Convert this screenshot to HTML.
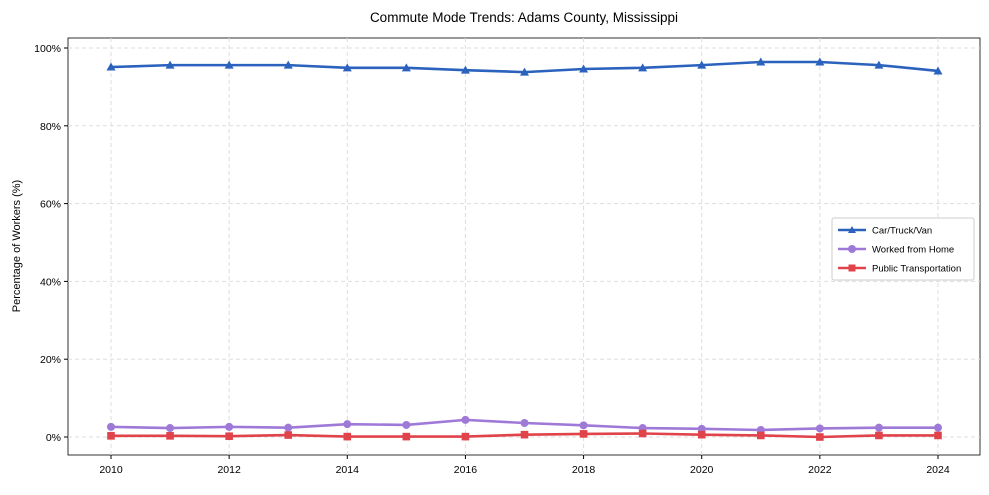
<!DOCTYPE html>
<html><head><meta charset="utf-8"><style>
body{margin:0;background:#fff;}
svg text{font-family:"Liberation Sans",sans-serif;}
</style></head><body>
<svg id="chart" width="989" height="490" xmlns="http://www.w3.org/2000/svg">
<rect width="989" height="490" fill="#fff"/>
<text x="524" y="22" text-anchor="middle" font-size="13.5">Commute Mode Trends: Adams County, Mississippi</text>
<rect x="68" y="38" width="912" height="417" fill="none" stroke="#000" stroke-width="0.8"/>
<g id="grid"></g><g id="axes"></g><g id="series"></g>
<text transform="translate(20,246) rotate(-90)" text-anchor="middle" font-size="11">Percentage of Workers (%)</text>
<g>
<rect x="832" y="218" width="142" height="62" fill="#fff" stroke="#ccc" rx="2"/>
<g><line x1="838" y1="230" x2="866" y2="230" stroke="#2a62bd" stroke-width="2.5"/><path d="M852,226 L856,233 L848,233Z" fill="#2a62bd"/><text x="872" y="233.5" font-size="9.5">Car/Truck/Van</text></g>
<g><line x1="838" y1="249" x2="866" y2="249" stroke="#9f79d8" stroke-width="2.5"/><circle cx="852" cy="249" r="4" fill="#9f79d8"/><text x="872" y="252.5" font-size="9.5">Worked from Home</text></g>
<g><line x1="838" y1="268" x2="866" y2="268" stroke="#e0434a" stroke-width="2.5"/><rect x="848.5" y="264.5" width="7" height="7" fill="#e0434a"/><text x="872" y="271.5" font-size="9.5">Public Transportation</text></g>
</g>
</svg>
<script>
const years=[2010,2011,2012,2013,2014,2015,2016,2017,2018,2019,2020,2021,2022,2023,2024];
const carValues=[95.1,95.6,95.6,95.6,94.9,94.9,94.3,93.8,94.6,94.9,95.6,96.4,96.4,95.6,94.1];
const homeValues=[2.6,2.3,2.6,2.4,3.3,3.1,4.4,3.6,3.0,2.3,2.1,1.8,2.2,2.4,2.4];
const transitValues=[0.3,0.3,0.2,0.5,0.1,0.1,0.1,0.6,0.8,0.9,0.6,0.4,0.0,0.4,0.4];
const yTicks=[0,20,40,60,80,100];
const xTicks=[2010,2012,2014,2016,2018,2020,2022,2024];
const NS="http://www.w3.org/2000/svg";
const xs=v=>111+(v-2010)*(938-111)/14;
const ys=v=>437-v*(437-48)/100;
function mk(t,a,p){const e=document.createElementNS(NS,t);for(const k in a)e.setAttribute(k,a[k]);p.appendChild(e);return e;}
const grid=document.getElementById('grid'),axes=document.getElementById('axes'),ser=document.getElementById('series');
yTicks.forEach(v=>{const y=ys(v);
const g=mk('line',{x1:68,x2:980,y1:y,y2:y,stroke:'#ddd','stroke-dasharray':'4,3'},grid);


mk('line',{x1:64,x2:68,y1:y,y2:y,stroke:'#000'},axes);
const t=mk('text',{x:61,y:y+4,'text-anchor':'end','font-size':'10.5'},axes);t.textContent=v+'%';

});
xTicks.forEach(v=>{const x=xs(v);
const g=mk('line',{x1:x,x2:x,y1:38,y2:455,stroke:'#ddd','stroke-dasharray':'4,3'},grid);


mk('line',{x1:x,x2:x,y1:455,y2:459,stroke:'#000'},axes);
const t=mk('text',{x:x,y:473,'text-anchor':'middle','font-size':'10.5'},axes);t.textContent=v;

});
function series(vals,color,marker,name){
const p=mk('polyline',{points:vals.map((v,i)=>xs(years[i])+','+ys(v)).join(' '),fill:'none',stroke:color,'stroke-width':2.6},ser);


vals.forEach((v,i)=>{const x=xs(years[i]),y=ys(v);let m;
if(marker==='tri')m=mk('path',{d:`M${x},${y-4.5} L${x+4.5},${y+3.5} L${x-4.5},${y+3.5}Z`,fill:color},ser);
else if(marker==='circ')m=mk('circle',{cx:x,cy:y,r:4,fill:color},ser);
else m=mk('rect',{x:x-3.8,y:y-3.8,width:7.6,height:7.6,fill:color},ser);

});}
series(carValues,'#2a62bd','tri','car');
series(homeValues,'#9f79d8','circ','home');
series(transitValues,'#e0434a','sq','transit');
</script>
</body></html>
